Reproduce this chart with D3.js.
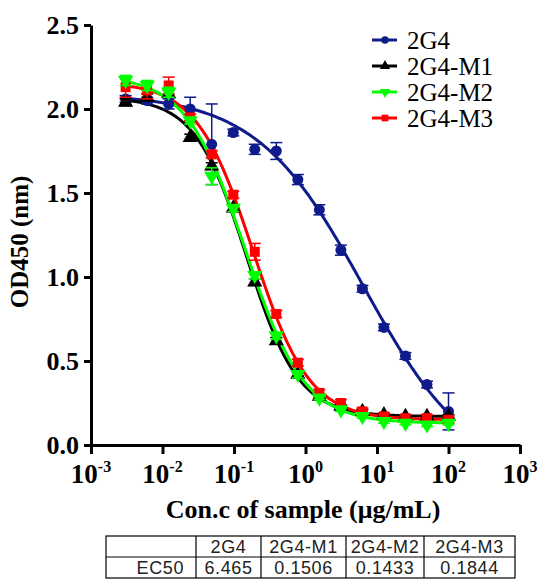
<!DOCTYPE html>
<html>
<head>
<meta charset="utf-8">
<script src="https://cdn.jsdelivr.net/npm/d3@7"></script>
<style>
  html, body { margin: 0; padding: 0; background: #fff; }
  svg { display: block; }
</style>
</head>
<body>
<svg id="chart" width="539" height="579"></svg>
<script>
/*
 * Dose-response curves, 2G4 and variants
 */

// concentrations (ug/mL), 2-fold dilution series
var conc = [0.00305, 0.0061, 0.0122, 0.0244, 0.0488, 0.0977, 0.1953, 0.3906,
  0.7813, 1.5625, 3.125, 6.25, 12.5, 25, 50, 100];

var seriesNames = ['2G4', '2G4-M1', '2G4-M2', '2G4-M3'];
var seriesColors = ['#0f1b8a', '#000000', '#00ff00', '#ff0000'];
var seriesSymbols = [d3.symbolCircle, d3.symbolTriangle, d3.symbolTriangle, d3.symbolSquare];

var od2G4 = [2.06, 2.05, 2.03, 2.00, 1.79, 1.86, 1.76, 1.75, 1.58, 1.40, 1.16, 0.93, 0.70, 0.53, 0.36, 0.20];
var err2G4 = [0.02, 0.02, 0.03, 0.07, 0.24, 0.02, 0.03, 0.05, 0.03, 0.03, 0.03, 0.02, 0.02, 0.02, 0.02, 0.11];

var odM1 = [2.04, 2.07, 2.09, 1.83, 1.66, 1.41, 0.97, 0.62, 0.42, 0.29, 0.23, 0.20, 0.18, 0.17, 0.17, 0.17];
var errM1 = [0.02, 0.02, 0.02, 0.02, 0.02, 0.02, 0.02, 0.02, 0.01, 0.01, 0.01, 0.01, 0.01, 0.01, 0.01, 0.01];

var odM2 = [2.17, 2.14, 2.10, 1.93, 1.60, 1.41, 1.01, 0.65, 0.42, 0.28, 0.21, 0.17, 0.14, 0.13, 0.12, 0.13];
var errM2 = [0.03, 0.03, 0.03, 0.02, 0.05, 0.02, 0.02, 0.02, 0.02, 0.01, 0.01, 0.01, 0.01, 0.01, 0.01, 0.01];

var odM3 = [2.13, 2.11, 2.14, 1.95, 1.73, 1.49, 1.15, 0.78, 0.49, 0.31, 0.25, 0.20, 0.17, 0.16, 0.16, 0.15];
var errM3 = [0.06, 0.05, 0.05, 0.02, 0.02, 0.02, 0.05, 0.02, 0.02, 0.02, 0.02, 0.02, 0.02, 0.02, 0.02, 0.02];

// 4PL fit parameters (EC50 from the table)
var ec50 = [6.465, 0.1506, 0.1433, 0.1844];
var fitTop = [2.09, 2.07, 2.20, 2.16];
var fitBottom = [-0.20, 0.17, 0.13, 0.15];
var fitHill = [0.58, 1.2, 1.05, 1.1];

var yTicks = [0, 0.5, 1.0, 1.5, 2.0, 2.5];
var xTickExps = [-3, -2, -1, 0, 1, 2, 3];

var serif = '"Liberation Serif", "Times New Roman", serif';
var sans = '"Liberation Sans", Arial, sans-serif';

var values = [od2G4, odM1, odM2, odM3];
var errors = [err2G4, errM1, errM2, errM3];

var svg = d3.select('#chart');

var x = d3.scaleLog().domain([1e-3, 1e3]).range([91, 520]);
var y = d3.scaleLinear().domain([0, 2.5]).range([445, 25]);

// y axis
var yAxis = svg.append('g')
  .attr('transform', 'translate(' + x(1e-3) + ',0)')
  .call(d3.axisLeft(y).tickValues(yTicks).tickFormat(d3.format('.1f'))
    .tickSize(7).tickSizeOuter(0).tickPadding(5));
yAxis.selectAll('path, line').attr('stroke', '#000').attr('stroke-width', 3);
yAxis.selectAll('text')
  .attr('font-family', serif).attr('font-size', 26).attr('font-weight', 'bold').attr('fill', '#000');

// x axis
var xAxis = svg.append('g')
  .attr('transform', 'translate(0,' + y(0) + ')')
  .call(d3.axisBottom(x).tickValues(xTickExps.map(function(e) { return Math.pow(10, e); }))
    .tickFormat('').tickSize(9).tickSizeOuter(0));
xAxis.selectAll('path, line').attr('stroke', '#000').attr('stroke-width', 3);

xTickExps.forEach(function(e) {
  var t = svg.append('text')
    .attr('x', x(Math.pow(10, e)))
    .attr('y', 483)
    .attr('text-anchor', 'middle')
    .attr('font-family', serif).attr('font-weight', 'bold').attr('fill', '#000');
  t.append('tspan').attr('font-size', 27).text('10');
  t.append('tspan').attr('font-size', 16).attr('dy', -11).text(e < 0 ? '-' + (-e) : String(e));
});

// axis titles
svg.append('text')
  .attr('x', 303).attr('y', 518)
  .attr('text-anchor', 'middle')
  .attr('font-family', serif).attr('font-size', 26).attr('font-weight', 'bold')
  .text('Con.c of sample (\u03bcg/mL)');

svg.append('text')
  .attr('transform', 'translate(28,242) rotate(-90)')
  .attr('text-anchor', 'middle')
  .attr('font-family', serif).attr('font-size', 25).attr('font-weight', 'bold')
  .text('OD450 (nm)');

// fitted curves
var logGrid = d3.range(0, 201).map(function(i) {
  return Math.log10(conc[0]) + i * (Math.log10(conc[conc.length - 1]) - Math.log10(conc[0])) / 200;
});

var line = d3.line()
  .x(function(d) { return x(d[0]); })
  .y(function(d) { return y(d[1]); });

var drawOrder = [0, 1, 3, 2];

drawOrder.forEach(function(s) {
  var pts = logGrid.map(function(lc) {
    var c = Math.pow(10, lc);
    return [c, fitBottom[s] + (fitTop[s] - fitBottom[s]) / (1 + Math.pow(c / ec50[s], fitHill[s]))];
  });
  svg.append('path')
    .datum(pts)
    .attr('fill', 'none')
    .attr('stroke', seriesColors[s])
    .attr('stroke-width', 3)
    .attr('d', line);
});

// error bars and points
drawOrder.forEach(function(s) {
  var g = svg.append('g');
  var col = seriesColors[s];
  conc.forEach(function(c, i) {
    var v = values[s][i], e = errors[s][i], cx = x(c);
    g.append('line')
      .attr('x1', cx).attr('x2', cx)
      .attr('y1', y(v - e)).attr('y2', y(v + e))
      .attr('stroke', col).attr('stroke-width', 1.5);
    [v - e, v + e].forEach(function(b) {
      g.append('line')
        .attr('x1', cx - 6).attr('x2', cx + 6)
        .attr('y1', y(b)).attr('y2', y(b))
        .attr('stroke', col).attr('stroke-width', 1.5);
    });
    g.append('path')
      .attr('d', d3.symbol().type(seriesSymbols[s]).size(s === 0 ? 95 : 100)())
      .attr('transform', 'translate(' + cx + ',' + y(v) + ')' + (s === 2 ? ' rotate(180)' : ''))
      .attr('fill', col);
  });
});

// legend
var legendY = [40, 66, 92, 118];
seriesNames.forEach(function(name, s) {
  var ly = legendY[s];
  svg.append('line')
    .attr('x1', 372).attr('x2', 397).attr('y1', ly).attr('y2', ly)
    .attr('stroke', seriesColors[s]).attr('stroke-width', 3);
  svg.append('path')
    .attr('d', d3.symbol().type(seriesSymbols[s]).size(45)())
    .attr('transform', 'translate(385,' + ly + ')' + (s === 2 ? ' rotate(180)' : ''))
    .attr('fill', seriesColors[s]);
  svg.append('text')
    .attr('x', 407).attr('y', ly)
    .attr('dy', '0.35em')
    .attr('font-family', serif).attr('font-size', 25)
    .text(name);
});

// EC50 table
var colEdges = [106, 196, 261, 346, 424, 515];
var rowEdges = [536, 557, 578];
var tbl = svg.append('g');

tbl.append('rect')
  .attr('x', colEdges[0]).attr('y', rowEdges[0])
  .attr('width', colEdges[5] - colEdges[0]).attr('height', rowEdges[2] - rowEdges[0])
  .attr('fill', 'none').attr('stroke', '#000').attr('stroke-width', 1.2);
colEdges.slice(1, 5).forEach(function(cx) {
  tbl.append('line')
    .attr('x1', cx).attr('x2', cx).attr('y1', rowEdges[0]).attr('y2', rowEdges[2])
    .attr('stroke', '#000').attr('stroke-width', 1.2);
});
tbl.append('line')
  .attr('x1', colEdges[0]).attr('x2', colEdges[5]).attr('y1', rowEdges[1]).attr('y2', rowEdges[1])
  .attr('stroke', '#000').attr('stroke-width', 1.2);

function cellText(tx, ty, str, anchor) {
  tbl.append('text')
    .attr('x', tx).attr('y', ty).attr('dy', '0.36em')
    .attr('text-anchor', anchor)
    .attr('font-family', sans).attr('font-size', 18).attr('fill', '#222')
    .attr('letter-spacing', 0.6)
    .text(str);
}

var rowMid1 = (rowEdges[0] + rowEdges[1]) / 2;
var rowMid2 = (rowEdges[1] + rowEdges[2]) / 2;
cellText(colEdges[1] - 12, rowMid2, 'EC50', 'end');
seriesNames.forEach(function(name, s) {
  var mid = (colEdges[s + 1] + colEdges[s + 2]) / 2;
  cellText(mid, rowMid1, name, 'middle');
  cellText(mid, rowMid2, String(ec50[s]), 'middle');
});
</script>
</body>
</html>
